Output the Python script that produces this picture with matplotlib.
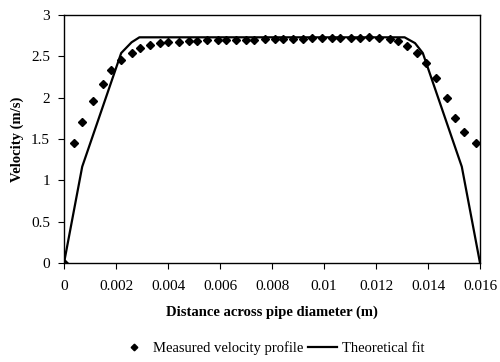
import matplotlib
matplotlib.use('Agg')
import matplotlib.pyplot as plt

# measured velocity profile (m, m/s)
meas_x = [0.0, 0.00038, 0.0007, 0.00112, 0.0015, 0.00182, 0.00218, 0.00262,
          0.00292, 0.00331, 0.00369, 0.00399, 0.00442, 0.00481, 0.0051,
          0.0055, 0.00591, 0.00623, 0.00662, 0.007, 0.00731, 0.00774,
          0.00812, 0.00841, 0.0088, 0.0092, 0.00954, 0.00992, 0.0103,
          0.0106, 0.01104, 0.0114, 0.01173, 0.01212, 0.01253, 0.01283,
          0.01319, 0.01359, 0.01391, 0.01431, 0.01472, 0.01503, 0.01538,
          0.01585]
meas_v = [0.0, 1.45, 1.70, 1.96, 2.16, 2.33, 2.46, 2.54,
          2.60, 2.64, 2.66, 2.67, 2.67, 2.68, 2.68,
          2.70, 2.70, 2.70, 2.70, 2.70, 2.70, 2.71,
          2.71, 2.71, 2.71, 2.71, 2.72, 2.72, 2.72,
          2.72, 2.72, 2.72, 2.73, 2.72, 2.71, 2.68,
          2.62, 2.54, 2.42, 2.24, 2.00, 1.76, 1.58,
          1.45]

# theoretical fit
fit_x = [0.0, 0.0007, 0.0022, 0.0026, 0.0029, 0.0131, 0.0135, 0.0138, 0.0153, 0.016]
fit_v = [0.0, 1.165, 2.54, 2.67, 2.73, 2.73, 2.66, 2.54, 1.165, 0.0]

xticks = [0, 0.002, 0.004, 0.006, 0.008, 0.01, 0.012, 0.014, 0.016]
xticklabels = ['0', '0.002', '0.004', '0.006', '0.008', '0.01', '0.012', '0.014', '0.016']
yticks = [0, 0.5, 1, 1.5, 2, 2.5, 3]
yticklabels = ['0', '0.5', '1', '1.5', '2', '2.5', '3']

plt.rcParams['font.family'] = ['Liberation Serif', 'DejaVu Serif']

fig = plt.figure(figsize=(5.0, 3.62), dpi=100)
ax = fig.add_axes([64 / 500, 1 - 263 / 362, 416 / 500, 248 / 362])

ax.plot(meas_x, meas_v, linestyle='none', marker='D', ms=4.2, color='black',
        label='Measured velocity profile')
ax.plot(fit_x, fit_v, '-', color='black', lw=1.6, label='Theoretical fit')

ax.set_xlim(0, 0.016)
ax.set_ylim(0, 3)
ax.set_xticks(xticks)
ax.set_xticklabels(xticklabels)
ax.set_yticks(yticks)
ax.set_yticklabels(yticklabels)
ax.tick_params(direction='out', length=4, width=0.8, labelsize=11, pad=6)
ax.tick_params(axis='x', pad=8)
for s in ax.spines.values():
    s.set_linewidth(1.0)
    s.set_color('black')

ax.set_xlabel('Distance across pipe diameter (m)', fontweight='bold', fontsize=10.5, labelpad=9)
ax.set_ylabel('Velocity (m/s)', fontweight='bold', fontsize=10.5, labelpad=5)

ax.legend(loc='center', bbox_to_anchor=(272 / 500, 1 - 348 / 362),
          bbox_transform=fig.transFigure, ncol=2, frameon=False, fontsize=10.5,
          handlelength=2.0, columnspacing=0.3, handletextpad=0.3, markerscale=0.8)

fig.savefig('out.png', dpi=100)
